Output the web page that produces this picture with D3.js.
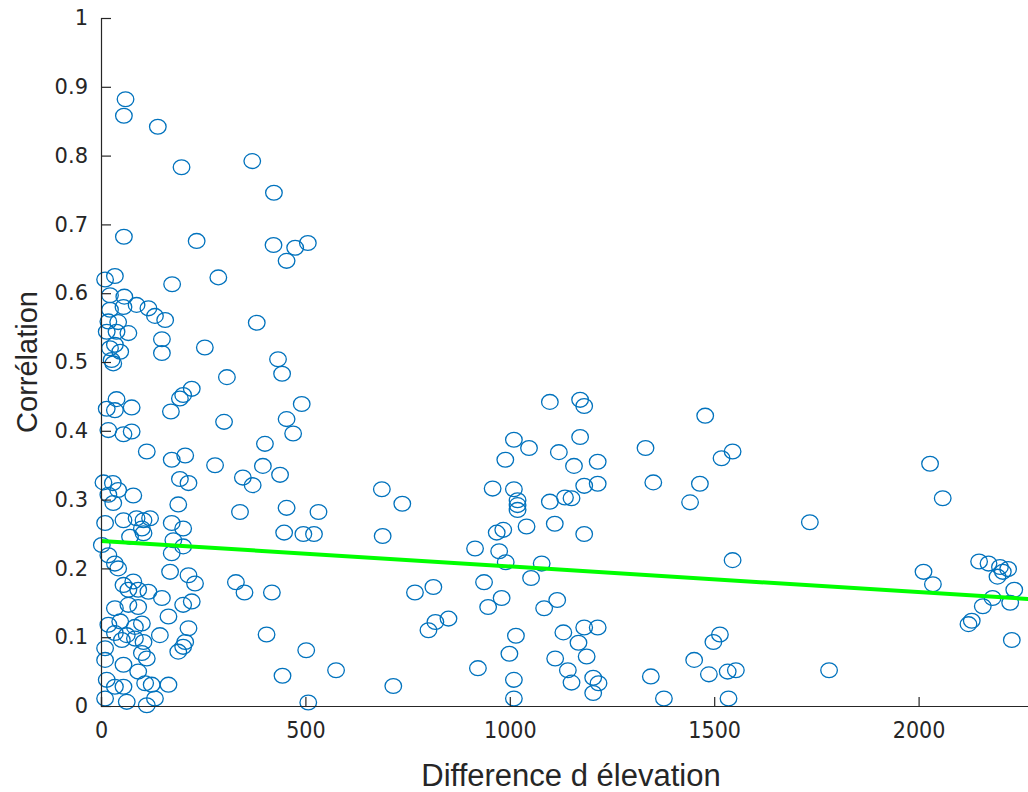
<!DOCTYPE html>
<html>
<head>
<meta charset="utf-8">
<script src="https://cdn.jsdelivr.net/npm/d3@7/dist/d3.min.js"></script>
<style>
  html, body { margin: 0; padding: 0; background: #ffffff; }
  svg { display: block; }
  text { font-family: "Liberation Sans", Arial, Helvetica, sans-serif; fill: #262626; }
</style>
</head>
<body>
<svg id="chart" width="1028" height="792"></svg>
<script>
// ---- data ----
const elevationDiff = [
  60, 56, 139, 197, 370, 423, 56, 234, 422, 475, 506, 454, 381, 433, 443, 491, 454, 470, 401, 396, 438, 347, 371, 687,
  10, 34, 174, 287, 22, 57, 22, 55, 87, 116, 132, 157, 18, 42, 67, 14, 38, 34, 22, 47, 26, 30, 149, 149, 254, 308,
  222, 201, 193, 171, 301, 38, 14, 34, 75, 18, 55, 75, 112, 173, 206, 279, 6, 29, 193, 214,
  42, 18, 79, 30, 189, 340, 10, 55, 87, 104, 120, 100, 104, 71, 173, 201, 177, 201, 173, 2, 18, 34, 42, 169, 214, 230,
  55, 79, 67, 91, 116, 330, 351,
  34, 67, 91, 149, 201, 222, 165, 18, 47, 83, 100, 34, 63, 51, 83, 104, 144, 214, 206, 201, 189, 10, 100, 112, 10, 55,
  91, 14, 34, 55, 108, 124, 165, 10, 63, 112, 132,
  454, 532, 448, 495, 521, 737, 689, 418, 768, 813, 405, 502, 444, 575, 715, 507, 801, 818, 850,
  1098, 1172, 1182, 1010, 1047, 1172, 1120, 989, 1157, 1215, 958, 1010, 1019, 1019, 1019, 1098, 1135, 1151, 1182, 1215,
  968, 984, 1041, 1110, 1182, 915, 974, 990, 1078, 1052, 937, 980, 947, 1116, 1084, 1015, 1131, 1182, 1215, 1168, 999,
  1111, 1188, 922, 1142, 1010, 1151, 1204, 1217, 1204, 1010,
  1332, 1478, 1518, 1545, 1351, 1465, 1441, 1734, 1545, 1514, 1498, 1451, 1345, 1487, 1533, 1553, 1781, 1377, 1535,
  2028, 2059, 2012, 2035, 2148, 2171, 2199, 2219, 2193, 2234, 2181, 2157, 2224, 2130, 2122, 2228, 2206
];
const correlation = [
  0.882, 0.858, 0.842, 0.783, 0.792, 0.746, 0.682, 0.676, 0.670, 0.666, 0.673, 0.647, 0.557, 0.504, 0.483, 0.439, 0.417, 0.396, 0.381, 0.349, 0.336, 0.332, 0.321, 0.315,
  0.620, 0.625, 0.613, 0.623, 0.597, 0.595, 0.576, 0.580, 0.583, 0.578, 0.567, 0.561, 0.559, 0.558, 0.542, 0.544, 0.544, 0.525, 0.520, 0.515, 0.503, 0.498, 0.533, 0.513, 0.521, 0.478,
  0.461, 0.452, 0.447, 0.428, 0.413, 0.446, 0.432, 0.430, 0.434, 0.401, 0.395, 0.399, 0.370, 0.358, 0.364, 0.350, 0.325, 0.324, 0.330, 0.324,
  0.314, 0.307, 0.306, 0.295, 0.293, 0.282, 0.266, 0.270, 0.273, 0.270, 0.273, 0.258, 0.251, 0.246, 0.266, 0.258, 0.241, 0.232, 0.222, 0.234, 0.219, 0.207, 0.200, 0.195, 0.190, 0.178,
  0.176, 0.181, 0.169, 0.169, 0.166, 0.180, 0.165,
  0.142, 0.147, 0.144, 0.157, 0.147, 0.152, 0.130, 0.118, 0.123, 0.115, 0.120, 0.106, 0.103, 0.096, 0.098, 0.093, 0.103, 0.113, 0.093, 0.086, 0.079, 0.084, 0.077, 0.069, 0.067, 0.060,
  0.050, 0.038, 0.028, 0.028, 0.033, 0.031, 0.031, 0.011, 0.006, 0.001, 0.011,
  0.288, 0.282, 0.252, 0.250, 0.250, 0.294, 0.247, 0.165, 0.165, 0.173, 0.104, 0.081, 0.044, 0.052, 0.029, 0.005, 0.110, 0.122, 0.127,
  0.442, 0.445, 0.436, 0.387, 0.375, 0.391, 0.369, 0.358, 0.349, 0.355, 0.316, 0.315, 0.299, 0.292, 0.285, 0.297, 0.303, 0.302, 0.320, 0.323,
  0.252, 0.256, 0.261, 0.265, 0.250, 0.229, 0.225, 0.209, 0.207, 0.186, 0.180, 0.157, 0.144, 0.154, 0.142, 0.102, 0.107, 0.114, 0.114, 0.092, 0.076,
  0.069, 0.072, 0.055, 0.052, 0.038, 0.034, 0.041, 0.033, 0.019, 0.011,
  0.375, 0.422, 0.360, 0.370, 0.325, 0.323, 0.296, 0.267, 0.212, 0.104, 0.093, 0.067, 0.043, 0.046, 0.050, 0.052, 0.052, 0.011, 0.011,
  0.352, 0.302, 0.195, 0.177, 0.210, 0.207, 0.202, 0.199, 0.188, 0.169, 0.157, 0.145, 0.150, 0.124, 0.119, 0.096, 0.195
];
// linear fit line end points
const fitX = [0, 2500];
const fitY = [0.240, 0.147];

const xTicks = [0, 500, 1000, 1500, 2000];
const yTicks = [0, 0.1, 0.2, 0.3, 0.4, 0.5, 0.6, 0.7, 0.8, 0.9, 1];
const xLabel = "Difference d élevation";
const yLabel = "Corrélation";

// ---- drawing ----
const svg = d3.select("#chart");
const plotLeft = 101, plotTop = 18, plotBottom = 706;
const pxPerUnit = 0.4088;
const xScale = d3.scaleLinear().domain([0, 2500]).range([plotLeft, plotLeft + 2500 * pxPerUnit]);
const yScale = d3.scaleLinear().domain([0, 1]).range([plotBottom, plotTop]);

const axisColor = "#262626";

// points
const pts = elevationDiff.map((d, i) => ({ x: d, y: correlation[i] }));
svg.append("g")
  .selectAll("ellipse")
  .data(pts)
  .join("ellipse")
  .attr("cx", d => xScale(d.x))
  .attr("cy", d => yScale(d.y))
  .attr("rx", 8.3)
  .attr("ry", 7.4)
  .attr("fill", "none")
  .attr("stroke", "#0072BD")
  .attr("stroke-width", 1.3);

// fit line
const fitLine = d3.line().x(d => xScale(d[0])).y(d => yScale(d[1]));
svg.append("path")
  .datum(fitX.map((v, i) => [v, fitY[i]]))
  .attr("d", fitLine)
  .attr("fill", "none")
  .attr("stroke", "#00FF00")
  .attr("stroke-width", 4);

// x axis (bottom line spans the whole visible width)
const xAxis = d3.axisBottom(xScale).tickValues(xTicks).tickSize(-9).tickPadding(16).tickFormat(d3.format("d"));
const gx = svg.append("g").attr("transform", `translate(0,${plotBottom})`).call(xAxis);
gx.select(".domain").attr("stroke", axisColor).attr("stroke-width", 1.2);
gx.selectAll(".tick line").attr("stroke", axisColor).attr("stroke-width", 1.2);
gx.selectAll(".tick text").attr("font-size", 23).attr("fill", axisColor)
  .style("font-family", "'Liberation Sans Narrow', 'DejaVu Sans Condensed', 'Liberation Sans', sans-serif");

// y axis
const yAxis = d3.axisLeft(yScale).tickValues(yTicks).tickSize(-10).tickPadding(13)
  .tickFormat(d => d === 0 ? "0" : d === 1 ? "1" : d3.format(".1f")(d));
const gy = svg.append("g").attr("transform", `translate(${plotLeft},0)`).call(yAxis);
gy.select(".domain").attr("stroke", axisColor).attr("stroke-width", 1.2);
gy.selectAll(".tick line").attr("stroke", axisColor).attr("stroke-width", 1.2);
gy.selectAll(".tick text").attr("font-size", 21).attr("fill", axisColor)
  .style("font-family", "'DejaVu Sans', Verdana, sans-serif");

// axis titles
svg.append("text")
  .attr("x", 571).attr("y", 786)
  .attr("text-anchor", "middle")
  .attr("font-size", 31)
  .text(xLabel);

svg.append("text")
  .attr("transform", "translate(37,362) rotate(-90)")
  .attr("text-anchor", "middle")
  .attr("font-size", 29)
  .text(yLabel);
</script>
</body>
</html>
